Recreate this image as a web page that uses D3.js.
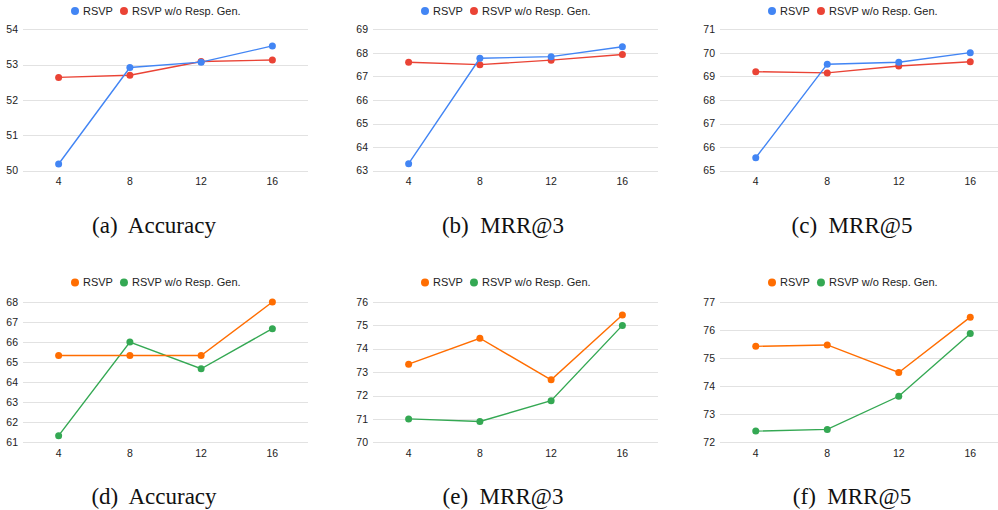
<!DOCTYPE html>
<html>
<head>
<meta charset="utf-8">
<script src="https://cdn.jsdelivr.net/npm/d3@7"></script>
<style>
  html, body { margin: 0; padding: 0; background: #fff; }
  svg { display: block; }
  .tick-label { font-family: "Liberation Sans", Arial, sans-serif; font-size: 10.5px; fill: #222; }
  .legend-label { font-family: "Liberation Sans", Arial, sans-serif; font-size: 11px; fill: #222; }
  .caption { font-family: "Liberation Serif", "Times New Roman", serif; font-size: 23px; fill: #111; white-space: pre; }
</style>
</head>
<body>
<svg id="chart" width="998" height="510"></svg>
<script>
// x categories (history length)
const categories = ["4", "8", "12", "16"];
const seriesNames = ["RSVP", "RSVP w/o Resp. Gen."];

// top row
const accTopRsvp = [50.19, 52.92, 53.07, 53.53];
const accTopNoGen = [52.64, 52.70, 53.09, 53.13];
const mrr3TopRsvp = [63.30, 67.77, 67.84, 68.26];
const mrr3TopNoGen = [67.60, 67.50, 67.69, 67.93];
const mrr5TopRsvp = [65.55, 69.52, 69.60, 70.01];
const mrr5TopNoGen = [69.20, 69.15, 69.44, 69.62];

// bottom row
const accBotRsvp = [65.33, 65.33, 65.33, 68.00];
const accBotNoGen = [61.33, 66.00, 64.67, 66.67];
const mrr3BotRsvp = [73.34, 74.45, 72.67, 75.44];
const mrr3BotNoGen = [71.00, 70.89, 71.78, 75.00];
const mrr5BotRsvp = [75.42, 75.47, 74.49, 76.46];
const mrr5BotNoGen = [72.40, 72.46, 73.64, 75.88];

// y axis ranges
const yDomains = [[50, 54], [63, 69], [65, 71], [61, 68], [70, 76], [72, 77]];
const captions = ["(a)  Accuracy", "(b)  MRR@3", "(c)  MRR@5",
                  "(d)  Accuracy", "(e)  MRR@3", "(f)  MRR@5"];

const topColors = ["#4285F4", "#EA4335"];
const botColors = ["#FF6D01", "#34A853"];

const svg = d3.select("#chart");

// layout of the 3x2 grid of panels
const colX = [[23, 308], [373, 658], [720, 1006]];
const rowY = [[29.3, 170.7], [302, 442.3]];
const captionX = [154, 503, 852];
const captionY = [233, 504];

const panels = [
  { series: [accTopRsvp, accTopNoGen], colors: topColors },
  { series: [mrr3TopRsvp, mrr3TopNoGen], colors: topColors },
  { series: [mrr5TopRsvp, mrr5TopNoGen], colors: topColors },
  { series: [accBotRsvp, accBotNoGen], colors: botColors },
  { series: [mrr3BotRsvp, mrr3BotNoGen], colors: botColors },
  { series: [mrr5BotRsvp, mrr5BotNoGen], colors: botColors }
];

panels.forEach((p, i) => {
  const col = i % 3, row = Math.floor(i / 3);
  const [x0, x1] = colX[col];
  const [y0, y1] = rowY[row];
  const g = svg.append("g");

  const x = d3.scalePoint().domain(categories).range([x0, x1]).padding(0.5);
  const y = d3.scaleLinear().domain(yDomains[i]).range([y1, y0]);
  const ticks = d3.range(yDomains[i][0], yDomains[i][1] + 1);

  // gridlines
  g.selectAll("line.grid").data(ticks).join("line")
    .attr("x1", x0).attr("x2", x1)
    .attr("y1", d => Math.round(y(d)) + 0.5)
    .attr("y2", d => Math.round(y(d)) + 0.5)
    .attr("stroke", "#e2e2e2").attr("stroke-width", 1);

  // y tick labels
  g.selectAll("text.ytick").data(ticks).join("text")
    .attr("class", "tick-label")
    .attr("x", x0 - 5).attr("y", d => y(d))
    .attr("dy", "0.35em").attr("text-anchor", "end")
    .text(d => d);

  // x tick labels
  g.selectAll("text.xtick").data(categories).join("text")
    .attr("class", "tick-label")
    .attr("x", d => x(d)).attr("y", y1 + 11)
    .attr("dy", "0.35em").attr("text-anchor", "middle")
    .text(d => d);

  // lines and points, second series drawn first like the source
  const line = d3.line().x((d, j) => x(categories[j])).y(d => y(d));
  [1, 0].forEach(s => {
    g.append("path")
      .attr("d", line(p.series[s]))
      .attr("fill", "none")
      .attr("stroke", p.colors[s])
      .attr("stroke-width", 1.4);
    g.selectAll(null).data(p.series[s]).join("circle")
      .attr("cx", (d, j) => x(categories[j]))
      .attr("cy", d => y(d))
      .attr("r", 3.5)
      .attr("fill", p.colors[s]);
  });

  // legend
  const legY = row === 0 ? 11 : 282.5;
  let lx = x0 + 52;
  seriesNames.forEach((name, s) => {
    g.append("circle").attr("cx", lx).attr("cy", legY).attr("r", 4).attr("fill", p.colors[s]);
    const t = g.append("text").attr("class", "legend-label")
      .attr("x", lx + 8).attr("y", legY).attr("dy", "0.35em").text(name);
    lx += 8 + t.node().getComputedTextLength() + 11;
  });

  // caption
  svg.append("text").attr("class", "caption")
    .attr("x", captionX[col]).attr("y", captionY[row])
    .attr("text-anchor", "middle")
    .text(captions[i]);
});
</script>
</body>
</html>
